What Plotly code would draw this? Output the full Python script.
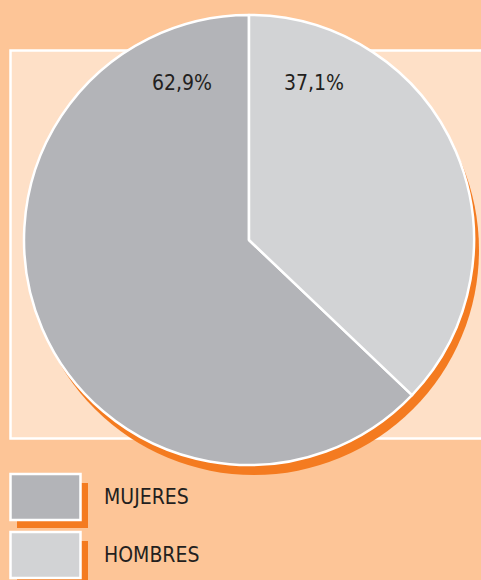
import plotly.graph_objects as go

categories = ["MUJERES", "HOMBRES"]
values = [62.9, 37.1]
slice_colors = ["#B3B4B8", "#D2D3D5"]

W, H = 481, 580
BG = "#FDC597"
INNER = "#FEE0C7"
ORANGE = "#F47B20"
TXT = "#231F20"
FONT = "DejaVu Sans Condensed, Liberation Sans Narrow, Roboto, sans-serif"

def px(x):
    return x / W

def py(y):
    return 1 - y / H

# pie geometry (pixels)
cx, cy, r = 249, 240, 225
sdx, sdy = 5, 10

# first slice (MUJERES) runs counterclockwise from 12 o'clock
start_rot = -360.0 * values[0] / sum(values)

fig = go.Figure()
fig.add_trace(go.Pie(
    labels=categories, values=values, sort=False, direction="counterclockwise",
    rotation=start_rot, marker=dict(colors=slice_colors, line=dict(color="white", width=2.5)),
    textinfo="none", hoverinfo="label+percent", showlegend=False,
    domain=dict(x=[px(cx - r), px(cx + r)], y=[py(cy + r), py(cy - r)]),
))

shapes = [
    dict(type="rect", xref="paper", yref="paper", x0=px(10.5), x1=px(490), y0=py(438.5), y1=py(50.5),
         fillcolor=INNER, line=dict(color="white", width=2.5), layer="below"),
    dict(type="circle", xref="paper", yref="paper",
         x0=px(cx - r + sdx), x1=px(cx + r + sdx), y0=py(cy + r + sdy), y1=py(cy - r + sdy),
         fillcolor=ORANGE, line=dict(width=0), layer="below"),
]

annotations = []
label_pos = [(182, 83), (314, 83)]
for v, (lx, ly) in zip(values, label_pos):
    annotations.append(dict(x=px(lx), y=py(ly), xref="paper", yref="paper", showarrow=False,
                            xanchor="center", yanchor="middle",
                            text=f"{v:.1f}%".replace(".", ","), font=dict(size=21, color=TXT, family=FONT)))

# custom legend
for i, (cat, col) in enumerate(zip(categories, slice_colors)):
    top = 474 + i * 58
    shapes.append(dict(type="rect", xref="paper", yref="paper", x0=px(17), x1=px(88), y0=py(top + 54), y1=py(top + 9),
                       fillcolor=ORANGE, line=dict(width=0), layer="below"))
    shapes.append(dict(type="rect", xref="paper", yref="paper", x0=px(10.5), x1=px(80.5), y0=py(top + 46), y1=py(top),
                       fillcolor=col, line=dict(color="white", width=2.5), layer="below"))
    annotations.append(dict(x=px(102), y=py(top + 23), xref="paper", yref="paper", showarrow=False,
                            xanchor="left", yanchor="middle", text=cat,
                            font=dict(size=21, color=TXT, family=FONT)))

fig.update_layout(width=W, height=H, margin=dict(l=0, r=0, t=0, b=0),
                  paper_bgcolor=BG, plot_bgcolor=BG, shapes=shapes, annotations=annotations,
                  showlegend=False)
fig.write_html("out.html", config={"displayModeBar": False},
               post_script="document.body.style.margin='0';document.body.style.overflow='hidden';")
